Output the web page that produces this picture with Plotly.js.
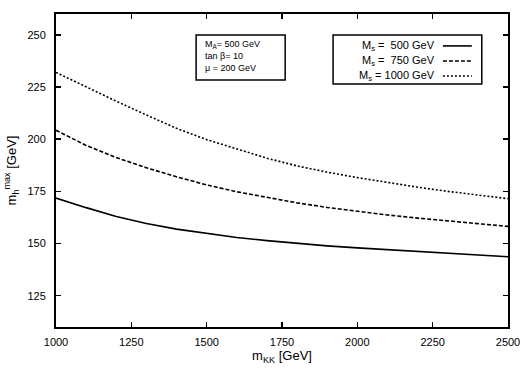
<!DOCTYPE html>
<html>
<head>
<meta charset="utf-8">
<script src="https://cdn.plot.ly/plotly-3.0.1.min.js"></script>
<style>
  body { margin: 0; background: #fff; }
  #chart { width: 529px; height: 371px; }
</style>
</head>
<body>
<div id="chart"></div>
<script>
// m_h^max vs m_KK for three values of M_s
var mKK = [1000, 1100, 1200, 1300, 1400, 1500, 1600, 1700, 1800, 1900, 2000, 2100, 2200, 2300, 2400, 2500];

var ms500  = [171.8, 167.2, 163.0, 159.6, 156.9, 154.8, 152.9, 151.4, 150.0, 148.9, 147.9, 147.1, 146.3, 145.5, 144.6, 143.7];
var ms750  = [204.3, 197.0, 191.2, 186.3, 182.0, 178.1, 174.8, 172.0, 169.5, 167.3, 165.4, 163.7, 162.2, 160.8, 159.5, 158.2];
var ms1000 = [232.0, 225.0, 218.2, 211.6, 205.2, 199.8, 195.2, 190.9, 187.2, 184.2, 181.6, 179.2, 177.0, 175.0, 173.2, 171.5];

var seriesNames = ['M<sub>s</sub> =  500 GeV', 'M<sub>s</sub> =  750 GeV', 'M<sub>s</sub> = 1000 GeV'];
var seriesDash = ['solid', '4px,2px', '2px,2px'];
var seriesY = [ms500, ms750, ms1000];

var xTicks = [1000, 1250, 1500, 1750, 2000, 2250, 2500];
var yTicks = [125, 150, 175, 200, 225, 250];

var infoLines = ['M<sub>A</sub>= 500 GeV', 'tan \u03b2= 10', '\u03bc = 200 GeV'];

var font = 'Liberation Sans, Arial, sans-serif';

var data = seriesY.map(function (ys, i) {
  return {
    x: mKK,
    y: ys,
    type: 'scatter',
    mode: 'lines',
    name: seriesNames[i],
    line: { color: '#000', width: 1.6, dash: seriesDash[i] },
    showlegend: false
  };
});

// hand-made key, gnuplot style (text then line sample)
var shapes = [
  { type: 'rect', xref: 'paper', yref: 'paper', x0: 0.613, x1: 0.942, y0: 0.776, y1: 0.933,
    line: { color: '#000', width: 1.5 }, fillcolor: '#fff' },
  { type: 'rect', xref: 'paper', yref: 'paper', x0: 0.310, x1: 0.507, y0: 0.789, y1: 0.933,
    line: { color: '#000', width: 1.5 }, fillcolor: '#fff' }
];
var annotations = [];
var rowY = [0.898, 0.850, 0.802];
seriesNames.forEach(function (nm, i) {
  shapes.push({ type: 'line', xref: 'paper', yref: 'paper', x0: 0.856, x1: 0.920, y0: rowY[i], y1: rowY[i],
    line: { color: '#000', width: 1.6, dash: seriesDash[i] } });
  annotations.push({ xref: 'paper', yref: 'paper', x: 0.843, y: rowY[i], xanchor: 'right', yanchor: 'middle',
    text: nm, showarrow: false, font: { family: font, size: 11, color: '#000' } });
});
var infoY = [0.904, 0.866, 0.827];
infoLines.forEach(function (t, i) {
  annotations.push({ xref: 'paper', yref: 'paper', x: 0.325, y: infoY[i], xanchor: 'left', yanchor: 'middle',
    text: t, showarrow: false, font: { family: font, size: 9, color: '#000' } });
});

var axisCommon = {
  showgrid: false, zeroline: false,
  showline: true, linecolor: '#000', linewidth: 2, mirror: 'ticks',
  ticks: 'inside', ticklen: 5, tickwidth: 1.5, tickcolor: '#000',
  tickfont: { family: font, size: 11, color: '#000' }
};

var layout = {
  width: 529, height: 371,
  margin: { l: 56, r: 21, t: 14, b: 44 },
  paper_bgcolor: '#fff', plot_bgcolor: '#fff',
  font: { family: font, color: '#000' },
  xaxis: Object.assign({}, axisCommon, {
    range: [1000, 2500], tickvals: xTicks, ticktext: xTicks.map(String),
    ticklabelstandoff: 4,
    title: { text: 'm<sub>KK</sub> [GeV]', font: { family: font, size: 13 }, standoff: 2 }
  }),
  yaxis: Object.assign({}, axisCommon, {
    range: [110, 260], tickvals: yTicks, ticktext: yTicks.map(String),
    ticklabelstandoff: 6,
    title: { text: 'm<sub>h</sub><sup>max</sup> [GeV]', font: { family: font, size: 13 }, standoff: 8 }
  }),
  shapes: shapes,
  annotations: annotations,
  showlegend: false
};

Plotly.newPlot('chart', data, layout, { displayModeBar: false, staticPlot: true });
</script>
</body>
</html>
